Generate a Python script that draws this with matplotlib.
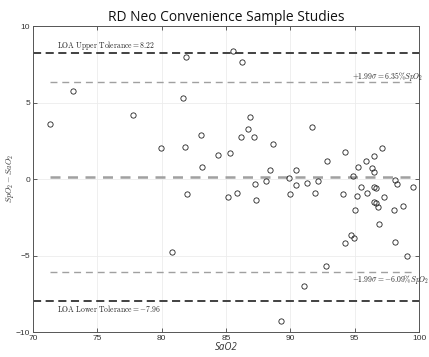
import matplotlib
matplotlib.use("Agg")
import matplotlib.pyplot as plt
import numpy as np

sao2 = [71.3, 73.13, 77.77, 79.95, 80.78, 81.63, 81.9, 81.8, 81.94, 83.05,
        83.13, 84.35, 85.15, 85.28, 85.57, 85.85, 86.14, 86.27, 86.68, 86.86,
        87.17, 87.25, 87.33, 88.08, 88.4, 88.67, 89.24, 89.92, 90.0, 90.44,
        90.44, 91.06, 91.27, 91.65, 91.92, 92.12, 92.74, 92.84, 94.06, 94.24,
        94.24, 94.72, 94.84, 94.95, 95.05, 95.14, 95.23, 95.5, 95.85, 95.92,
        96.3, 96.5, 96.53, 96.5, 96.63, 96.5, 96.63, 96.8, 96.91, 97.09,
        97.25, 98.05, 98.13, 98.13, 98.3, 98.77, 99.03, 99.55]
diff = [3.6, 5.77, 4.2, 2.0, -4.79, 5.31, 8.0, 2.09, -0.98, 2.9,
        0.8, 1.6, -1.18, 1.72, 8.37, -0.9, 2.77, 7.67, 3.29, 4.08,
        2.77, -0.31, -1.38, -0.11, 0.6, 2.28, -9.28, 0.07, -0.98, 0.59,
        -0.42, -6.99, -0.23, 3.38, -0.89, -0.12, -5.69, 1.18, -0.98, 1.79,
        -4.2, -3.68, 0.2, -3.88, -2.02, -1.09, 0.81, -0.5, 1.18, -0.89,
        0.7, 0.48, 1.52, -0.5, -0.61, -1.48, -1.59, -1.81, -2.92, 2.0,
        -1.19, -2.02, -4.1, -0.08, -0.3, -1.73, -5.01, -0.5]

loa_upper = 8.22
loa_lower = -7.96
mean_bias = 0.13
sd_upper = 6.35
sd_lower = -6.09

title = "RD Neo Convenience Sample Studies"
xticks = [70, 75, 80, 85, 90, 95, 100]
yticks = [-10, -5, 0, 5, 10]

plt.rcParams['mathtext.fontset'] = 'cm'

fig = plt.figure(figsize=(4.29, 3.57), dpi=100)
ax = fig.add_axes([0.077, 0.070, 0.900, 0.857])

xmin, xmax = min(sao2), max(sao2)
ax.axhline(loa_upper, color='#333333', lw=1.3, ls=(0, (4.5, 2.5)), zorder=2)
ax.axhline(loa_lower, color='#333333', lw=1.3, ls=(0, (4.5, 2.5)), zorder=2)
ax.plot([xmin, xmax], [sd_upper, sd_upper], color='#a0a0a0', lw=1.0, ls=(0, (5, 3.5)), zorder=2)
ax.plot([xmin, xmax], [sd_lower, sd_lower], color='#a0a0a0', lw=1.0, ls=(0, (5, 3.5)), zorder=2)
ax.plot([xmin, xmax], [mean_bias, mean_bias], color='#a0a0a0', lw=1.8, ls=(0, (4, 3)), zorder=2)

ax.plot(sao2, diff, ls='none', marker='o', markersize=3.8, markerfacecolor='none',
        markeredgecolor='#222222', markeredgewidth=0.6, zorder=3)

ax.text(71.9, 8.7, r'$\mathrm{LOA\ Upper\ Tolerance} = %.2f$' % loa_upper, fontsize=5.5,
        va='center', ha='left', color='#222222')
ax.text(71.9, -8.45, r'$\mathrm{LOA\ Lower\ Tolerance} = %.2f$' % loa_lower, fontsize=5.5,
        va='center', ha='left', color='#222222')
ax.text(94.8, 6.73, r'$+1.99\sigma = %.2f\%%SpO_2$' % sd_upper, fontsize=5.5,
        va='center', ha='left', color='#222222', clip_on=False)
ax.text(94.8, -6.54, r'$-1.99\sigma = %.2f\%%SpO_2$' % sd_lower, fontsize=5.5,
        va='center', ha='left', color='#222222', clip_on=False)

ax.set_xlim(70, 100)
ax.set_ylim(-10, 10)
ax.set_xticks(xticks)
ax.set_yticks(yticks)
ax.grid(True, color='#ececec', lw=0.6)
ax.set_axisbelow(True)
ax.tick_params(direction='in', top=True, right=True, length=3, width=0.6,
               labelsize=6, colors='#444444', pad=2)
for lab in ax.get_xticklabels() + ax.get_yticklabels():
    lab.set_family('Liberation Sans')
    lab.set_color('#333333')
for sp in ax.spines.values():
    sp.set_color('#555555')
    sp.set_linewidth(0.7)

ax.set_title(title, fontsize=9.9, family='Open Sans', color='#111111', pad=4)
ax.set_xlabel('SaO2', fontsize=7, family='Open Sans', style='italic', color='#333333', labelpad=0)
ax.set_ylabel(r'$SpO_2 - SaO_2$', fontsize=6, color='#333333', labelpad=0)

fig.savefig('out.png', dpi=100)
